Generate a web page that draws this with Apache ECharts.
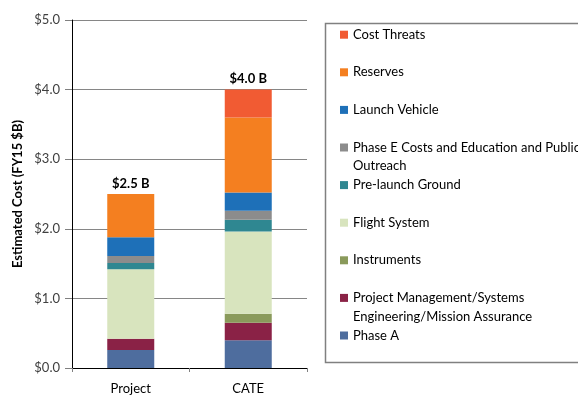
<!DOCTYPE html>
<html>
<head>
<meta charset="utf-8">
<script src="https://cdn.jsdelivr.net/npm/echarts@6/dist/echarts.min.js"></script>
<style>
  html, body { margin: 0; padding: 0; background: #fff; }
  #chart { width: 578px; height: 397px; }
</style>
</head>
<body>
<div id="chart"></div>
<script>
// Categories on the x axis
const categories = ['Project', 'CATE'];

// Cost elements in $B (FY15), listed bottom of stack to top
const phaseA        = [0.26, 0.40];
const pmSeMa        = [0.16, 0.25];
const instruments   = [0.00, 0.13];
const flightSystem  = [1.00, 1.18];
const preLaunch     = [0.09, 0.17];
const phaseE        = [0.10, 0.13];
const launchVehicle = [0.27, 0.26];
const reserves      = [0.62, 1.08];
const costThreats   = [0.00, 0.40];

// Y axis ticks
const yTicks = [0, 1, 2, 3, 4, 5];

const FONT = 'Lato, "Open Sans", sans-serif';

const seriesDefs = [
  { name: 'Phase A', data: phaseA, color: '#4E6D9E' },
  { name: 'Project Management/Systems\nEngineering/Mission Assurance', data: pmSeMa, color: '#8A2246' },
  { name: 'Instruments', data: instruments, color: '#8A9A5B' },
  { name: 'Flight System', data: flightSystem, color: '#D8E4BE' },
  { name: 'Pre-launch Ground', data: preLaunch, color: '#2F8791' },
  { name: 'Phase E Costs and Education and Public\nOutreach', data: phaseE, color: '#8C8C8C' },
  { name: 'Launch Vehicle', data: launchVehicle, color: '#1E70B8' },
  { name: 'Reserves', data: reserves, color: '#F47F20' },
  { name: 'Cost Threats', data: costThreats, color: '#F15B33' }
];

// Stack totals shown above each bar
const totals = categories.map((_, i) =>
  seriesDefs.reduce((s, d) => s + d.data[i], 0));

const series = seriesDefs.map((d, k) => {
  const s = {
    name: d.name,
    type: 'bar',
    stack: 'cost',
    barWidth: 47,
    data: d.data,
    itemStyle: { color: d.color },
    emphasis: { disabled: true }
  };
  if (k === seriesDefs.length - 1) {
    s.label = {
      show: true,
      position: 'top',
      distance: 4,
      fontFamily: FONT,
      fontSize: 13,
      fontWeight: 'bold',
      color: '#000',
      formatter: p => '$' + totals[p.dataIndex].toFixed(1) + ' B'
    };
  }
  return s;
});

// Legend rows, top to bottom, one legend component per row.
// Long names wrap: the first line sits beside the swatch, the rest below it.
const legendOrder = seriesDefs.slice().reverse();
const rowStart = 34.7, rowStep = 37.6, LH = 18;
const legends = [];
const wrapLines = [];
legendOrder.forEach((d, i) => {
  const rowY = rowStart + rowStep * i;
  const lines = d.name.split('\n');
  legends.push({
    data: [d.name],
    left: 340,
    top: rowY - 9,
    padding: 0,
    itemWidth: 8,
    itemHeight: 8,
    itemGap: 0,
    icon: 'rect',
    selectedMode: false,
    formatter: () => lines[0],
    textStyle: { fontFamily: FONT, fontSize: 13, color: '#000', lineHeight: LH }
  });
  lines.slice(1).forEach((t, j) => {
    wrapLines.push({
      type: 'text',
      left: 353,
      top: rowY + LH * (j + 1) - 6,
      silent: true,
      style: { text: t, fontFamily: FONT, fontSize: 13, fill: '#000' }
    });
  });
});

const chart = echarts.init(document.getElementById('chart'), null, { renderer: 'canvas' });
chart.setOption({
  animation: false,
  backgroundColor: '#fff',
  grid: { left: 72, right: 271, top: 20, bottom: 29 },
  legend: legends,
  graphic: [{
    type: 'rect',
    shape: { x: 325.5, y: 23.5, width: 300, height: 339 },
    style: { fill: 'none', stroke: '#808080', lineWidth: 1.5 },
    silent: true
  }].concat(wrapLines),
  xAxis: {
    type: 'category',
    data: categories,
    axisLine: { lineStyle: { color: '#000', width: 1 } },
    axisTick: { show: true, length: 4, lineStyle: { color: '#808080' } },
    axisLabel: { fontFamily: FONT, fontSize: 13, color: '#000', margin: 14 }
  },
  yAxis: {
    type: 'value',
    min: yTicks[0],
    max: yTicks[yTicks.length - 1],
    interval: 1,
    name: 'Estimated Cost (FY15 $B)',
    nameLocation: 'middle',
    nameGap: 48,
    nameTextStyle: { fontFamily: FONT, fontSize: 13, fontWeight: 'bold', color: '#000' },
    axisLine: { show: true, lineStyle: { color: '#000', width: 1 } },
    axisTick: { show: true, length: 7, lineStyle: { color: '#808080' } },
    axisLabel: {
      fontFamily: FONT, fontSize: 13, color: '#404040', margin: 12,
      formatter: v => '$' + v.toFixed(1)
    },
    splitLine: { show: true, lineStyle: { color: '#868686', width: 1.2 } }
  },
  series: series
});
</script>
</body>
</html>
